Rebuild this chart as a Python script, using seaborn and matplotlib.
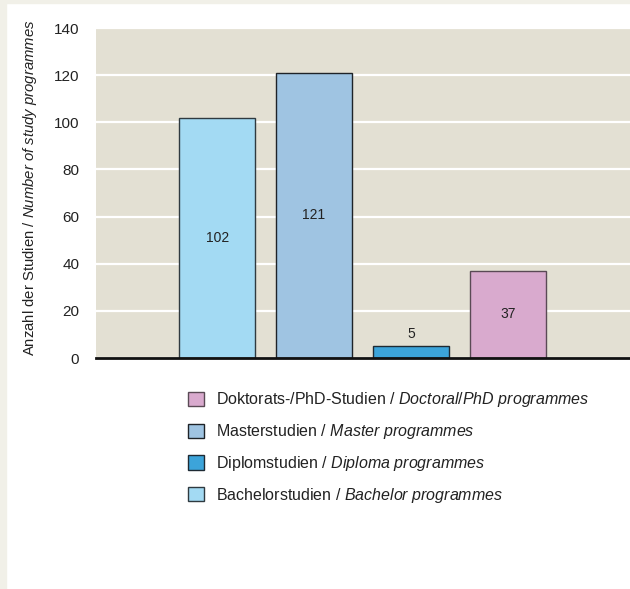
import matplotlib
matplotlib.use("Agg")
import matplotlib.pyplot as plt
from matplotlib.patches import Patch, Rectangle
import seaborn as sns
import pandas as pd

# data
categories = ["Bachelorstudien", "Masterstudien", "Diplomstudien", "Doktorats-/PhD-Studien"]
values = [102, 121, 5, 37]
legend_labels = [
    r"Bachelorstudien / $\mathit{Bachelor\ programmes}$",
    r"Masterstudien / $\mathit{Master\ programmes}$",
    r"Diplomstudien / $\mathit{Diploma\ programmes}$",
    r"Doktorats-/PhD-Studien / $\mathit{Doctoral/PhD\ programmes}$",
]
legend_order = [3, 1, 2, 0]
colors = ["#a3daf3", "#9fc4e2", "#3ca4da", "#d9aace"]
edges = ["#2f3a40", "#1e2328", "#1e2a33", "#5a4a55"]
y_ticks = [0, 20, 40, 60, 80, 100, 120, 140]

sns.set_style("white")
plt.rcParams["font.family"] = ["Liberation Sans", "DejaVu Sans"]
plt.rcParams["mathtext.fontset"] = "custom"
plt.rcParams["mathtext.rm"] = "Liberation Sans"
plt.rcParams["mathtext.it"] = "Liberation Sans:italic"

df = pd.DataFrame({"cat": categories, "val": values})

fig = plt.figure(figsize=(6.3, 5.89), dpi=100, facecolor="white")
# thin beige frame at top and left
fig.patches.append(Rectangle((0, 1 - 3 / 589), 1, 3 / 589, transform=fig.transFigure,
                             color="#f1f0e8", zorder=0))
fig.patches.append(Rectangle((0, 0), 6 / 630, 1, transform=fig.transFigure,
                             color="#f1f0e8", zorder=0))

ax = fig.add_axes([96 / 630, 1 - 358 / 589, 1 - 96 / 630, 330 / 589])
ax.set_facecolor("#e3e0d3")

sns.barplot(data=df, x="cat", y="val", hue="cat", order=categories, hue_order=categories,
            palette=dict(zip(categories, colors)), dodge=False, width=0.79,
            saturation=1, legend=False, ax=ax, zorder=3)

for bar, ec in zip(ax.patches, edges):
    bar.set_edgecolor(ec)
    bar.set_linewidth(1.0)

for cont, v in zip(ax.containers, values):
    if v < 15:
        ax.bar_label(cont, label_type="edge", padding=4, fontsize=10, color="#222222")
    else:
        ax.bar_label(cont, label_type="center", fontsize=10, color="#222222")

ax.set_xlim(-1.25, 4.26)
ax.set_ylim(0, 140)
ax.set_yticks(y_ticks)
ax.set_yticklabels([str(t) for t in y_ticks], fontsize=11, color="#222222")
ax.set_xticks([])
ax.set_xlabel("")
ax.set_ylabel("")
ax.tick_params(axis="y", length=0, pad=12)
ax.yaxis.grid(True, color="white", linewidth=1.6, zorder=1)
ax.set_axisbelow(True)
for s in ["top", "right", "left"]:
    ax.spines[s].set_visible(False)
ax.spines["bottom"].set_color("#111111")
ax.spines["bottom"].set_linewidth(2)
ax.spines["bottom"].set_zorder(5)

fig.text(30 / 630, 1 - 188 / 589,
         r"Anzahl der Studien / $\mathit{Number\ of\ study\ programmes}$",
         rotation=90, ha="center", va="center", fontsize=10.7, color="#222222")

handles = [Patch(facecolor=c, edgecolor=e, linewidth=1.0) for c, e in zip(colors, edges)]
fig.legend([handles[i] for i in legend_order], [legend_labels[i] for i in legend_order],
           loc="upper left", bbox_to_anchor=(174 / 630, 1 - 376 / 589), frameon=False,
           fontsize=11.5, handlelength=1.0, handleheight=1.0, handletextpad=0.75,
           labelspacing=0.8, labelcolor="#222222")

fig.savefig("out.png", dpi=100, facecolor="white")
